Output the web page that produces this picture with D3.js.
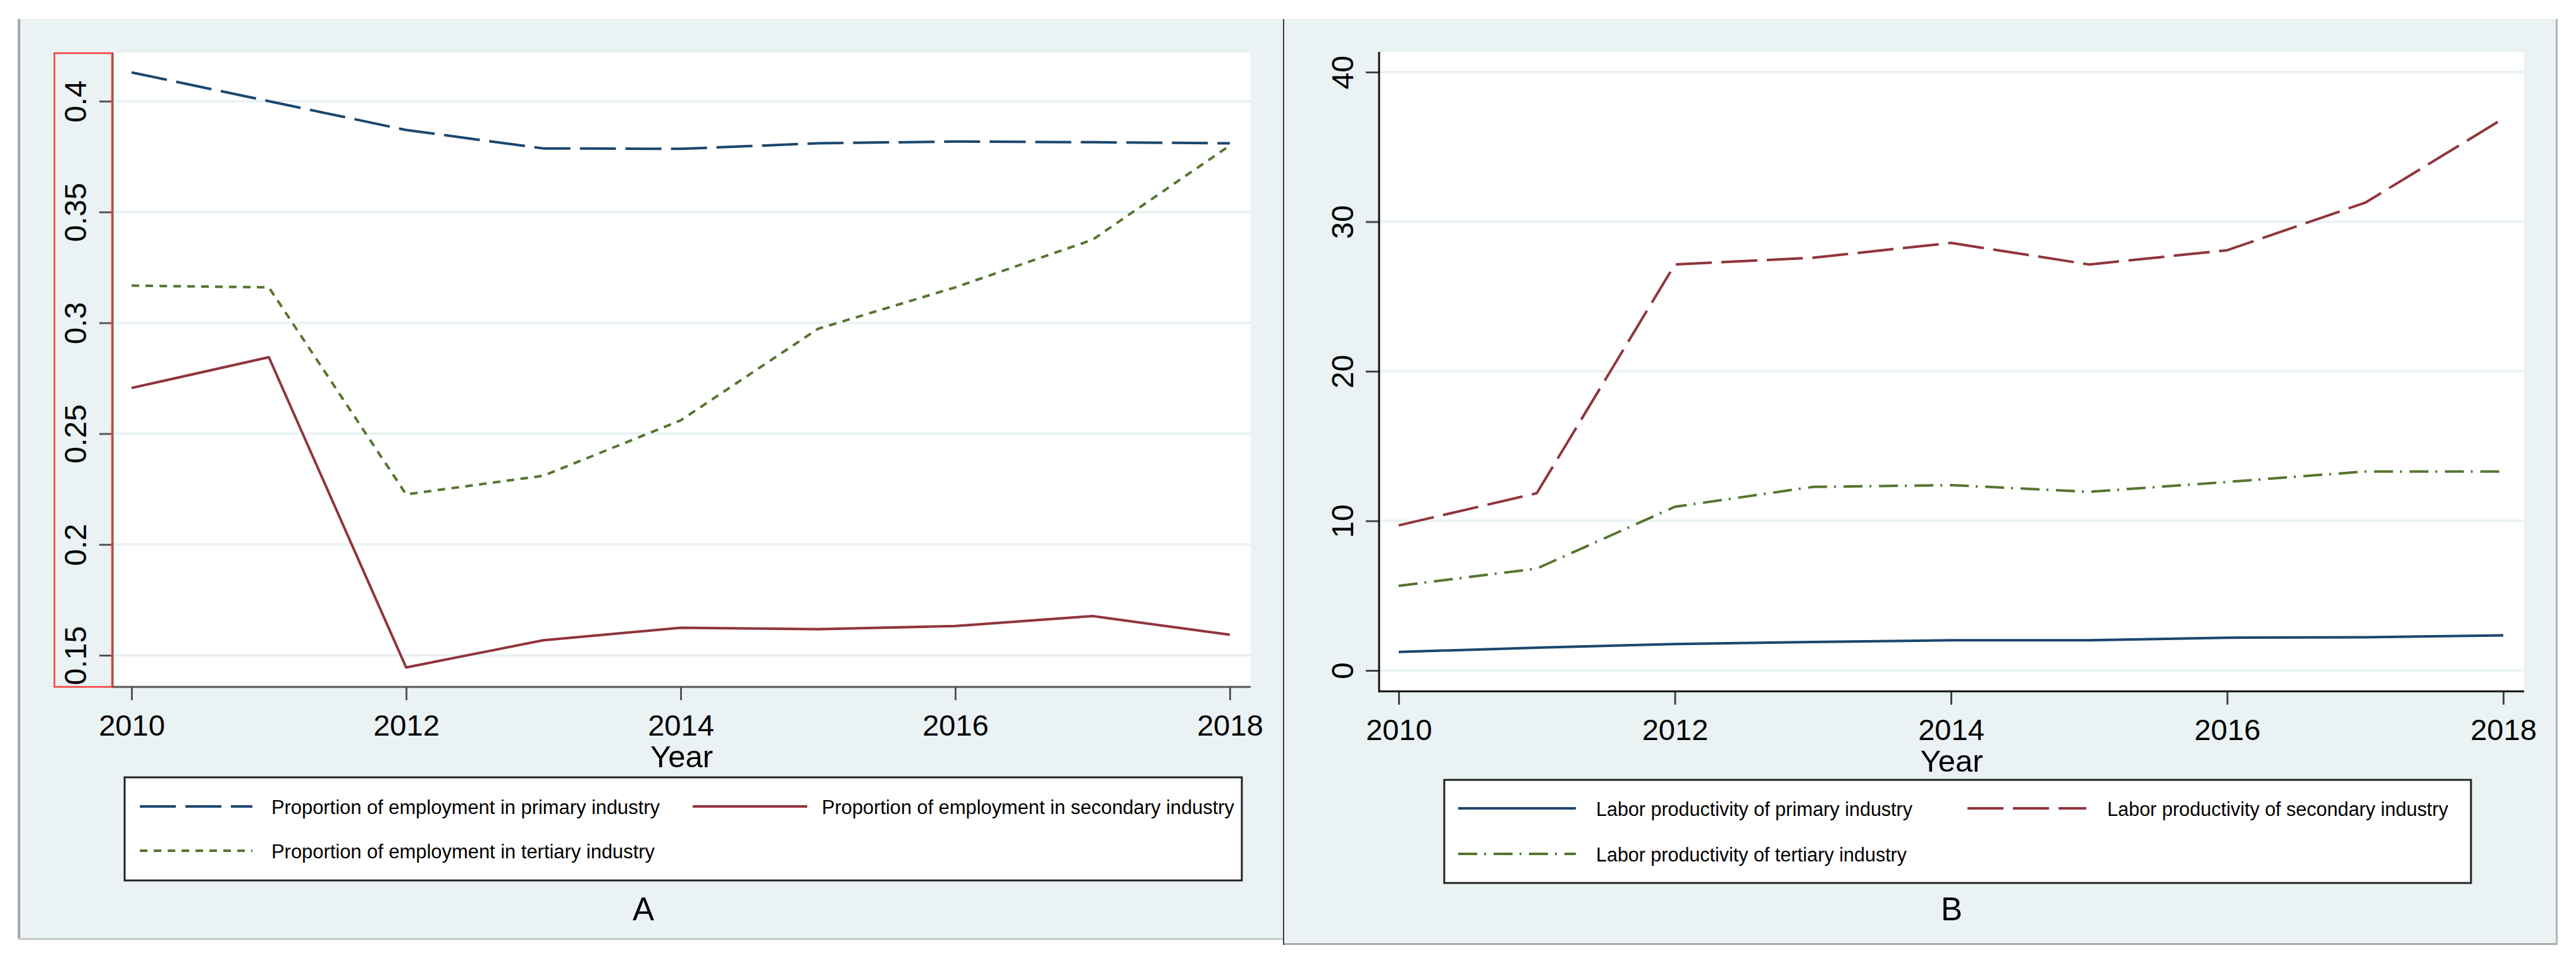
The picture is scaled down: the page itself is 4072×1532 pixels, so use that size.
<!DOCTYPE html>
<html>
<head>
<meta charset="utf-8">
<script src="https://cdn.jsdelivr.net/npm/d3@7"></script>
<style>
  html, body { margin: 0; padding: 0; background: #ffffff; }
  svg { display: block; font-family: "Liberation Sans", Arial, sans-serif; }
</style>
</head>
<body>
<div id="chart"></div>
<script>
// Daten
const years = [2010, 2011, 2012, 2013, 2014, 2015, 2016, 2017, 2018];

// Panel A: Beschäftigungsanteile
const empPrimary   = [0.413, 0.400, 0.387, 0.3787, 0.3785, 0.381, 0.3818, 0.3815, 0.381];
const empSecondary = [0.2706, 0.2845, 0.1445, 0.1568, 0.1624, 0.1618, 0.1632, 0.1677, 0.1593];
const empTertiary  = [0.3168, 0.316, 0.2226, 0.231, 0.256, 0.2973, 0.316, 0.3375, 0.380];

// Panel B: Arbeitsproduktivität
const prodPrimary   = [1.24, 1.52, 1.77, 1.90, 2.02, 2.02, 2.19, 2.22, 2.35];
const prodSecondary = [9.70, 11.85, 27.14, 27.59, 28.58, 27.14, 28.09, 31.27, 36.89];
const prodTertiary  = [5.66, 6.81, 10.94, 12.27, 12.39, 11.94, 12.60, 13.30, 13.30];

// Achsen-Ticks
const xTicks  = [2010, 2012, 2014, 2016, 2018];
const yTicksA = [0.15, 0.2, 0.25, 0.3, 0.35, 0.4];
const yTicksB = [0, 10, 20, 30, 40];

// Legendentexte
const labelsA = ['Proportion of employment in primary industry',
                 'Proportion of employment in secondary industry',
                 'Proportion of employment in tertiary industry'];
const labelsB = ['Labor productivity of primary industry',
                 'Labor productivity of secondary industry',
                 'Labor productivity of tertiary industry'];

// Farben / Linienstile (Stata s2color)
const NAVY = '#1a476f', MAROON = '#90353b', GREEN = '#55752f';
const BG = '#eaf2f3';
const LONGDASH = '57,15', SHORTDOT = '12,10', DASHDOT = '30,11,3,12';

const svg = d3.select('#chart').append('svg')
  .attr('width', 4072).attr('height', 1532);

// Panel-Hintergründe
svg.append('rect').attr('x', 28).attr('y', 30).attr('width', 2001).attr('height', 1454).attr('fill', BG);
svg.append('rect').attr('x', 2030).attr('y', 30).attr('width', 2013).attr('height', 1464).attr('fill', BG);
// Ränder
svg.append('rect').attr('x', 28).attr('y', 30).attr('width', 4).attr('height', 1456).attr('fill', '#a8a8a8');
svg.append('rect').attr('x', 28).attr('y', 1483).attr('width', 2001).attr('height', 3).attr('fill', '#c6c9ca');
svg.append('rect').attr('x', 2030).attr('y', 1491).attr('width', 2013).attr('height', 3).attr('fill', '#aaaaaa');
svg.append('rect').attr('x', 4040).attr('y', 30).attr('width', 3).attr('height', 1464).attr('fill', '#b4b4b4');
svg.append('line').attr('x1', 2029).attr('x2', 2029).attr('y1', 30).attr('y2', 1494)
  .attr('stroke', '#000').attr('stroke-width', 1.5);

function drawPanel(cfg) {
  const g = svg.append('g');
  const p = cfg.plot;

  const x = d3.scaleLinear().domain([2010, 2018]).range(cfg.xRange);
  const y = d3.scaleLinear().domain(cfg.yDomain).range(cfg.yRange);

  // Plotbereich
  g.append('rect').attr('x', p.left).attr('y', p.top)
    .attr('width', p.right - p.left).attr('height', p.bottom - p.top)
    .attr('fill', '#ffffff');

  // Gitterlinien
  g.append('g').selectAll('line')
    .data(cfg.yTicks).enter().append('line')
      .attr('x1', p.left).attr('x2', p.right)
      .attr('y1', d => y(d)).attr('y2', d => y(d))
      .attr('stroke', BG).attr('stroke-width', 4);

  // Datenlinien
  const line = d3.line().x((d, i) => x(years[i])).y(d => y(d));
  cfg.series.forEach(s => {
    g.append('path')
      .attr('d', line(s.values))
      .attr('fill', 'none')
      .attr('stroke', s.color)
      .attr('stroke-width', 4)
      .attr('stroke-dasharray', s.dash || null)
      .attr('stroke-linejoin', 'round');
  });

  // y-Achse
  const yAxis = g.append('g')
    .attr('transform', `translate(${p.left},0)`)
    .call(d3.axisLeft(y).tickValues(cfg.yTicks).tickSize(21).tickPadding(0)
      .tickFormat(d => String(d)));
  yAxis.select('.domain').remove();
  yAxis.selectAll('line').attr('stroke', cfg.tickColor).attr('stroke-width', 3);
  yAxis.selectAll('text')
    .attr('x', 0).attr('y', -cfg.yLabelOffset).attr('dy', 0)
    .attr('transform', 'rotate(-90)')
    .attr('text-anchor', 'middle')
    .attr('fill', '#000')
    .style('font-size', '48px');

  // x-Achse
  const xAxis = g.append('g')
    .attr('transform', `translate(0,${p.bottom})`)
    .call(d3.axisBottom(x).tickValues(xTicks).tickSize(21).tickFormat(d3.format('d')));
  xAxis.select('.domain').remove();
  xAxis.selectAll('line').attr('stroke', cfg.tickColor).attr('stroke-width', 3);
  xAxis.selectAll('text')
    .attr('y', 77).attr('dy', 0)
    .attr('fill', '#000')
    .style('font-size', '47px');

  // Achsenlinien
  g.append('line').attr('x1', p.left).attr('x2', p.left).attr('y1', p.top).attr('y2', p.bottom + 1.5)
    .attr('stroke', cfg.axisColor).attr('stroke-width', 3);
  g.append('line').attr('x1', p.left).attr('x2', p.right).attr('y1', p.bottom).attr('y2', p.bottom)
    .attr('stroke', cfg.axisColor).attr('stroke-width', 3);

  // Achsentitel
  g.append('text')
    .attr('x', (p.left + p.right) / 2).attr('y', p.bottom + 127)
    .attr('text-anchor', 'middle')
    .style('font-size', '49px')
    .text('Year');

  // Legende
  const L = cfg.legend;
  g.append('rect')
    .attr('x', L.x0).attr('y', L.y0)
    .attr('width', L.x1 - L.x0).attr('height', L.y1 - L.y0)
    .attr('fill', '#ffffff').attr('stroke', '#222').attr('stroke-width', 3);

  cfg.series.forEach((s, i) => {
    const col = i === 1 ? 1 : 0;
    const row = i === 2 ? 1 : 0;
    const ly = L.rows[row];
    g.append('line')
      .attr('x1', L.cols[col][0]).attr('x2', L.cols[col][1])
      .attr('y1', ly).attr('y2', ly)
      .attr('stroke', s.color).attr('stroke-width', 4)
      .attr('stroke-dasharray', s.dash || null);
    g.append('text')
      .attr('x', L.cols[col][2]).attr('y', ly + 12)
      .attr('textLength', L.widths[i])
      .attr('lengthAdjust', 'spacingAndGlyphs')
      .style('font-size', '31px')
      .text(cfg.labels[i]);
  });

  // Panel-Beschriftung
  g.append('text')
    .attr('x', cfg.captionX).attr('y', 1455)
    .attr('text-anchor', 'middle')
    .style('font-size', '51px')
    .text(cfg.caption);

  return g;
}

// Panel A
const gA = drawPanel({
  plot: { left: 178, right: 1977, top: 83, bottom: 1086 },
  xRange: [208, 1944],
  yDomain: [0.15, 0.4], yRange: [1036, 160],
  yTicks: yTicksA,
  yLabelOffset: 42,
  tickColor: '#555', axisColor: '#555',
  series: [
    { values: empPrimary,   color: NAVY,   dash: LONGDASH },
    { values: empSecondary, color: MAROON, dash: null },
    { values: empTertiary,  color: GREEN,  dash: SHORTDOT }
  ],
  labels: labelsA,
  legend: { x0: 197, x1: 1963, y0: 1229, y1: 1392,
            rows: [1275, 1345],
            cols: [[221, 399, 429], [1095, 1276, 1299]],
            widths: [614, 652, 606] },
  caption: 'A', captionX: 1017
});

// rote Markierung um die y-Achsenbeschriftung
gA.append('rect')
  .attr('x', 86).attr('y', 84).attr('width', 91).attr('height', 1002)
  .attr('fill', 'none').attr('stroke', '#ff3b3b').attr('stroke-width', 2.5);

// Panel B
drawPanel({
  plot: { left: 2180, right: 3990, top: 82, bottom: 1093 },
  xRange: [2211, 3957],
  yDomain: [0, 40], yRange: [1060, 114],
  yTicks: yTicksB,
  yLabelOffset: 41,
  tickColor: '#444', axisColor: '#111',
  series: [
    { values: prodPrimary,   color: NAVY,   dash: null },
    { values: prodSecondary, color: MAROON, dash: LONGDASH },
    { values: prodTertiary,  color: GREEN,  dash: DASHDOT }
  ],
  labels: labelsB,
  legend: { x0: 2283, x1: 3906, y0: 1233, y1: 1396,
            rows: [1278, 1350],
            cols: [[2305, 2491, 2523], [3110, 3298, 3331]],
            widths: [500, 539, 491] },
  caption: 'B', captionX: 3085
});
</script>
</body>
</html>
